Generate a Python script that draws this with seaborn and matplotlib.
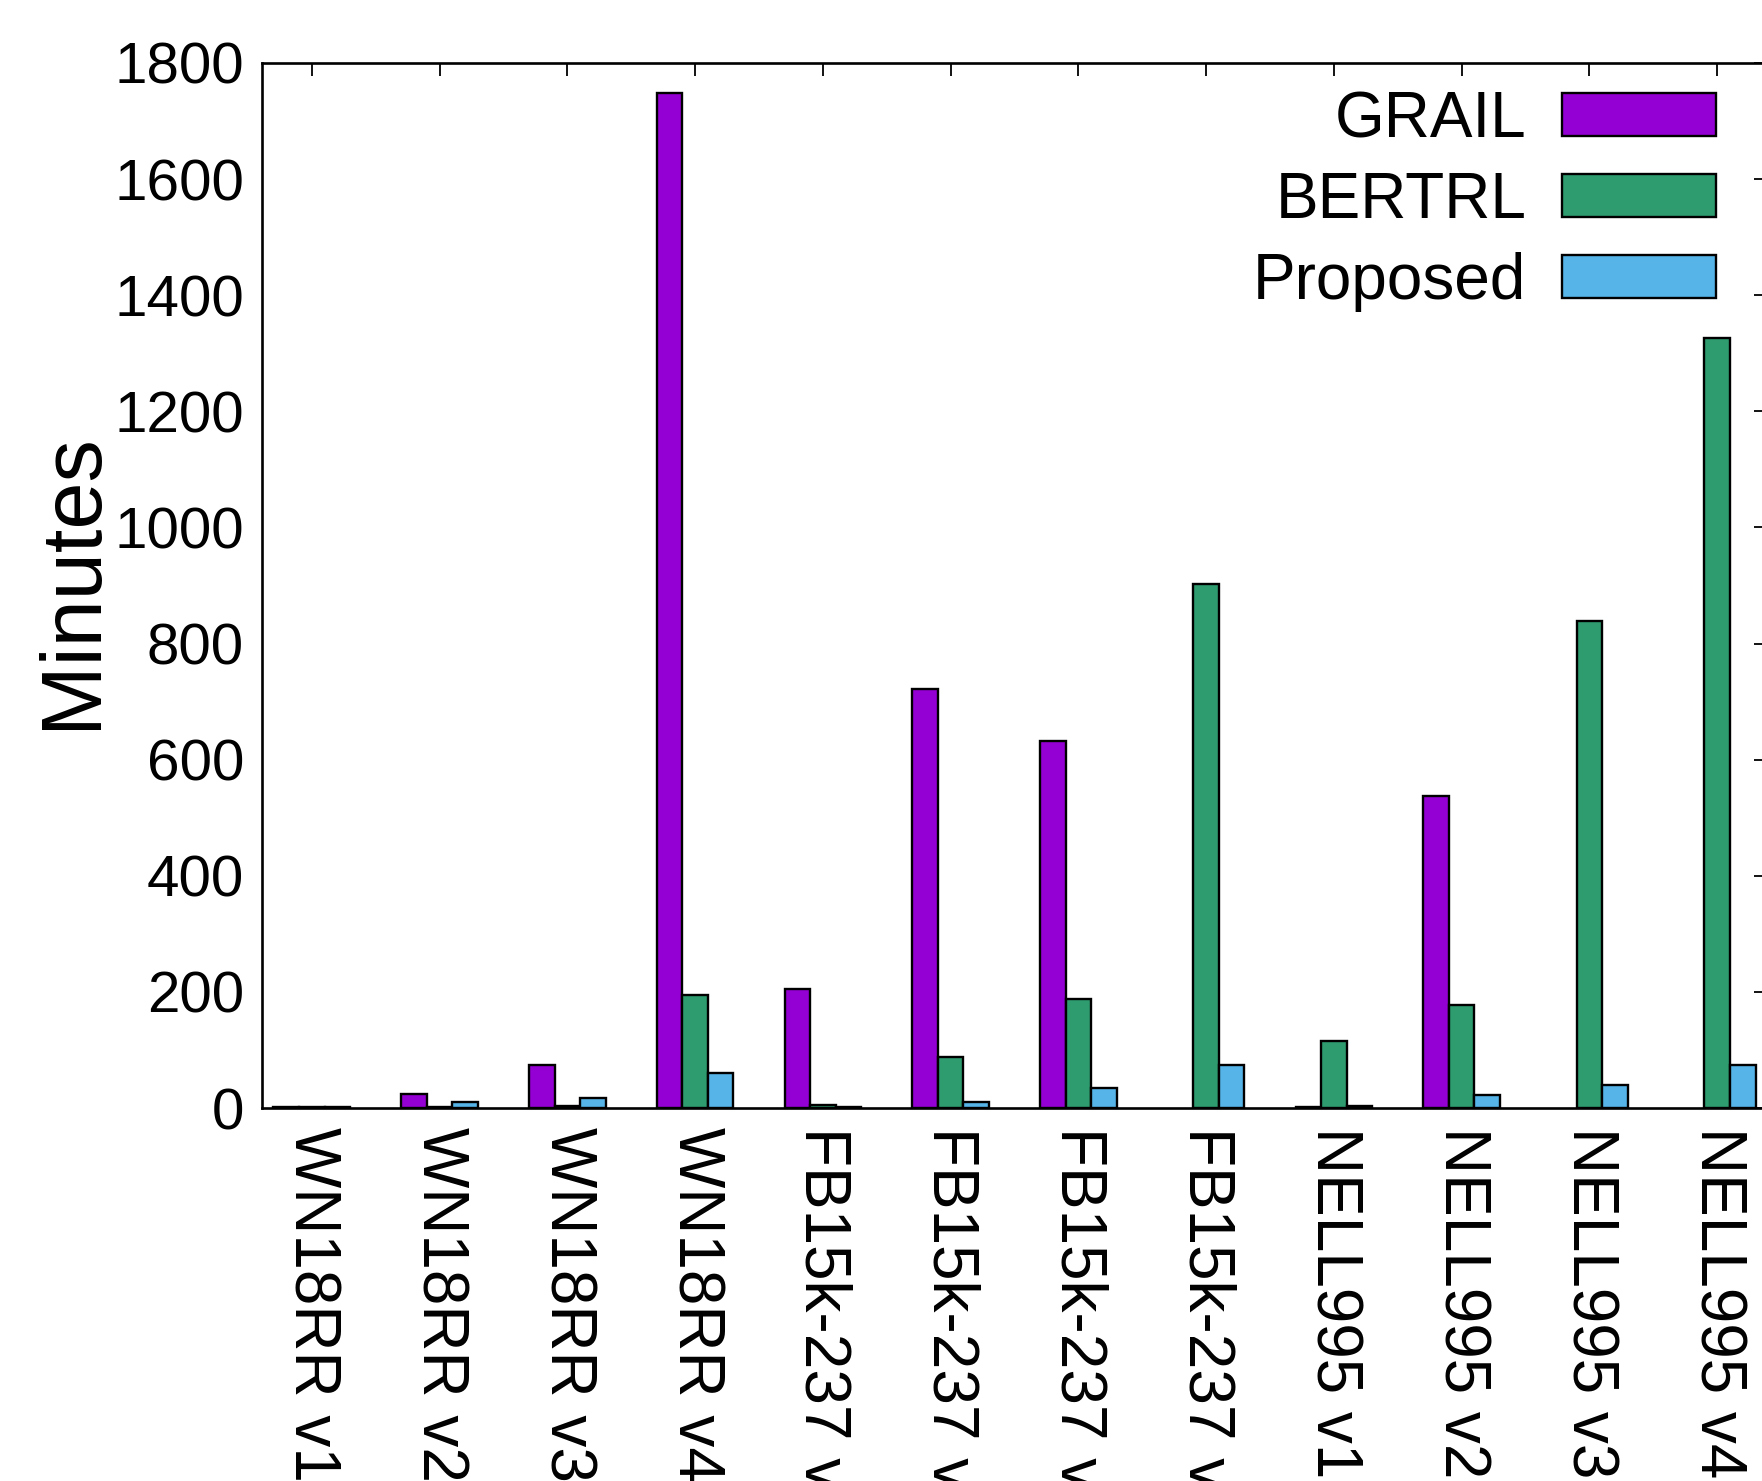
import numpy as np
import pandas as pd
import seaborn as sns
import matplotlib.pyplot as plt
from matplotlib.patches import Patch

datasets = ["WN18RR v1", "WN18RR v2", "WN18RR v3", "WN18RR v4",
            "FB15k-237 v1", "FB15k-237 v2", "FB15k-237 v3", "FB15k-237 v4",
            "NELL995 v1", "NELL995 v2", "NELL995 v3", "NELL995 v4"]
methods = ["GRAIL", "BERTRL", "Proposed"]
grail = [2, 24, 74, 1748, 205, 722, 633, np.nan, 2, 538, np.nan, np.nan]
bertrl = [2, 2, 3, 195, 6, 88, 188, 902, 116, 178, 838, 1326]
proposed = [2, 10, 17, 60, 2, 10, 34, 74, 4, 22, 40, 74]
colors = ["#9400d3", "#2e9c6f", "#56b4e9"]

df = pd.DataFrame({
    "dataset": datasets * 3,
    "method": [m for m in methods for _ in datasets],
    "minutes": grail + bertrl + proposed,
})

sns.set_style("white")
plt.rcParams["font.family"] = ["Liberation Sans", "DejaVu Sans"]
plt.rcParams["text.color"] = "black"
plt.rcParams["axes.labelcolor"] = "black"

fig = plt.figure(figsize=(17.62, 14.81), dpi=100)
ax = fig.add_axes([262 / 1762, 1 - 1108 / 1481, 1505 / 1762, 1045 / 1481])

sns.barplot(data=df, x="dataset", y="minutes", hue="method", order=datasets,
            hue_order=methods, palette=colors, saturation=1, width=0.6,
            edgecolor="black", linewidth=1.7, errorbar=None, legend=False, ax=ax)

ax.set_xlim(-0.39, 11.39)
ax.set_ylim(0, 1800)
ax.set_yticks(range(0, 1801, 200))
ax.set_xlabel("")
ax.set_ylabel("Minutes", fontsize=61, color="black")
ax.yaxis.set_label_coords(-0.099, 0.505)

ax.tick_params(direction="in", length=9.5, width=1.3, top=True, right=True,
               colors="black")
ax.tick_params(axis="y", pad=13, labelsize=42)
ax.tick_params(axis="x", pad=14, labelsize=46)
plt.setp(ax.get_xticklabels(), rotation=270, ha="center", va="top")

for s in ax.spines.values():
    s.set_linewidth(1.9)
    s.set_color("black")

handles = [Patch(facecolor=c, edgecolor="black", linewidth=1.7) for c in colors]
leg = ax.legend(handles, methods, loc="upper right", markerfirst=False, frameon=False,
                fontsize=46, handlelength=2.41, handleheight=0.66, handletextpad=0.56,
                labelspacing=0.33, borderpad=0, borderaxespad=0,
                bbox_to_anchor=(1716 / 1762, 1 - 90 / 1481),
                bbox_transform=fig.transFigure)
for t in leg.get_texts():
    t.set_color("black")

plt.savefig("out.png", dpi=100)
